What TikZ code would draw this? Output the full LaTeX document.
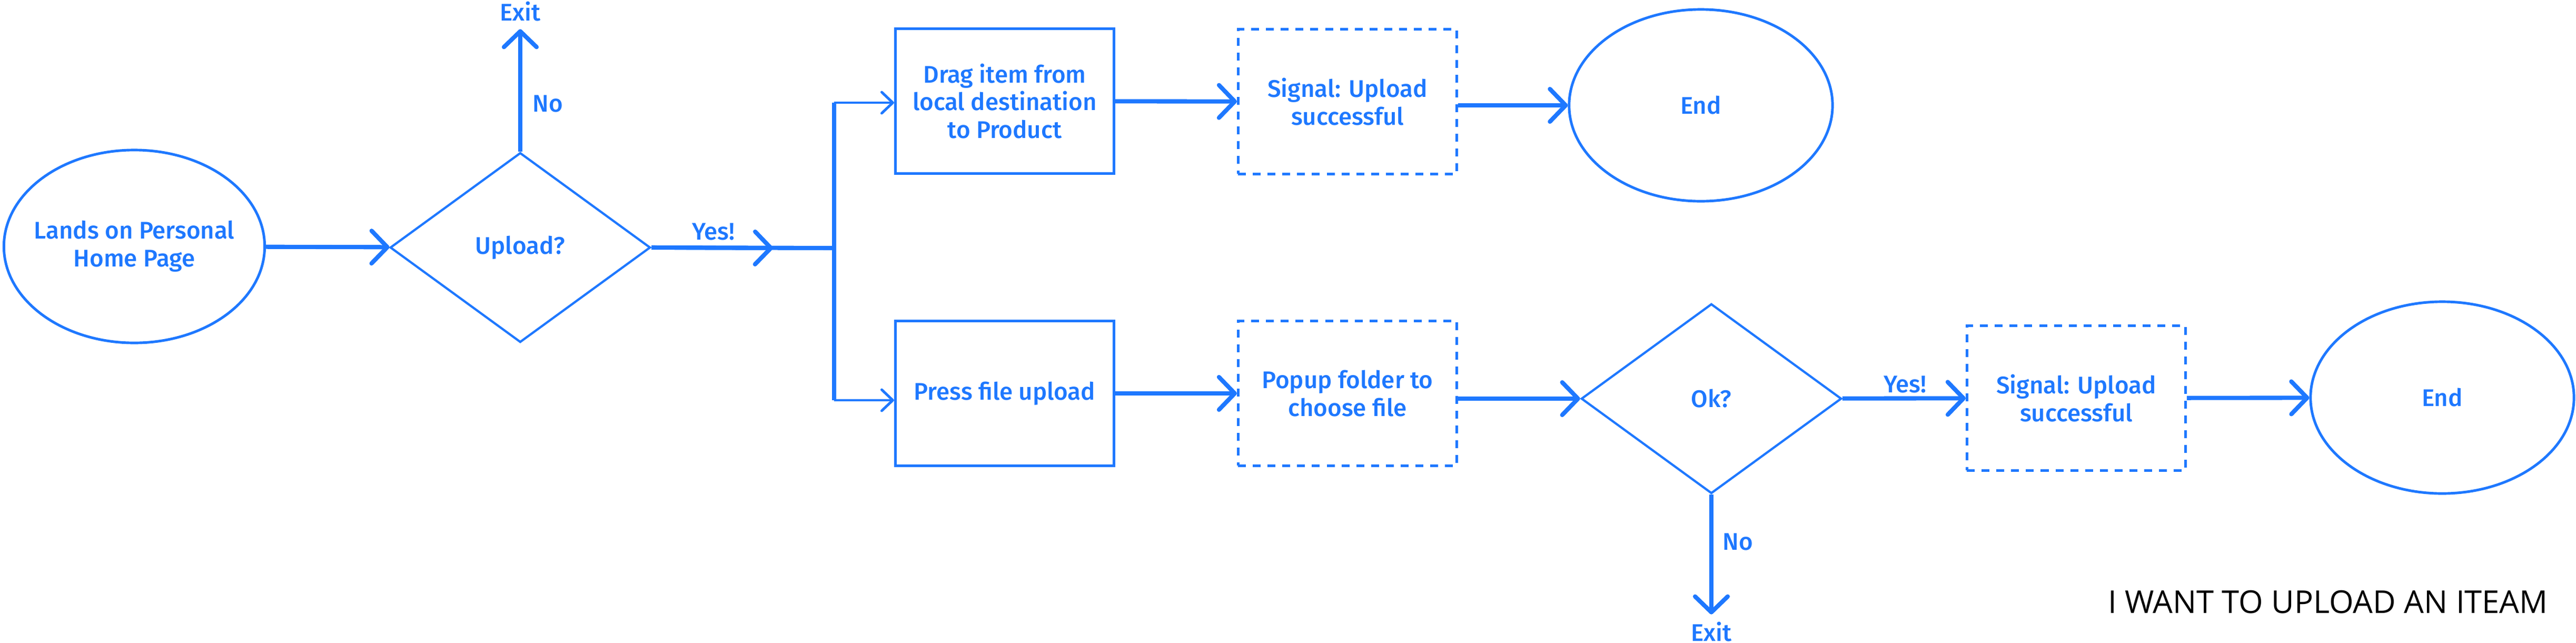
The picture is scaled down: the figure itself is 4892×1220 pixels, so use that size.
\documentclass[tikz,border=0pt]{standalone}
\usepackage{fontspec}
\setmainfont{Fira Sans}[UprightFont=* Medium]
\newfontfamily\titlefont{Open Sans}
\usetikzlibrary{shapes.geometric, arrows.meta}
\definecolor{flowblue}{HTML}{1E78FF}
\tikzset{
	flowtext/.style={text=flowblue, align=center, font=\fontsize{13pt}{15pt}\selectfont},
	base/.style={flowtext, draw=flowblue, line width=1.4pt},
	term/.style={base, ellipse, inner sep=0pt},
	decide/.style={base, diamond, line width=1.2pt, inner sep=0pt, minimum width=4.94cm, minimum height=3.6cm},
	act/.style={base, rectangle, minimum width=4.15cm, minimum height=2.74cm},
	signal/.style={act, dash pattern=on 0.15cm off 0.13cm},
	tag/.style={flowtext, inner sep=4pt},
	wire/.style={draw=flowblue, line width=2.3pt},
	conn/.style={wire, -{Straight Barb[length=0.3cm, width=0.62cm, round]}},
	stub/.style={draw=flowblue, line width=1.4pt, -{Straight Barb[length=0.21cm, width=0.4cm, round]}}
}
\begin{document}
\begin{tikzpicture}[x=0.01cm, y=-0.01cm]
	\useasboundingbox (0,0) rectangle (4892,1220);
	
	%start and first question
	\node[term, minimum width=4.95cm, minimum height=3.66cm] (start) at (255,468) {};
	\node[tag] (startText) at (start) {Lands on Personal\\Home Page};
	\node[decide] (upload) at (988,470) {Upload?};
	\node[tag] (exitA) at (988,22) {Exit};
	\node[tag] (noA) at (1040,197) {No};
	\node[tag] (yesA) at (1355,440) {Yes!};
	
	\coordinate (yesTip) at (1468,471);
	\coordinate (fork) at (1584,471);
	\coordinate (forkTop) at (1584,195);
	\coordinate (forkBot) at (1584,760);
	
	%top row: drag and drop
	\node[act] (drag) at (1908,192) {Drag item from\\local destination\\to Product};
	\node[signal] (sig1) at (2559,193) {Signal: Upload\\successful};
	\node[term, minimum width=5cm, minimum height=3.64cm] (end1) at (3230,200) {End};
	
	%bottom row: file upload
	\node[act] (press) at (1908,747) {Press file upload};
	\node[signal] (popup) at (2559,747) {Popup folder to\\choose file};
	\node[decide] (ok) at (3250,757) {Ok?};
	\node[tag] (yesB) at (3618,730) {Yes!};
	\node[tag] (noB) at (3300,1029) {No};
	\node[tag] (exitB) at (3250,1200) {Exit};
	\node[signal] (sig2) at (3943,756) {Signal: Upload\\successful};
	\node[term, minimum width=5cm, minimum height=3.64cm] (end2) at (4638,755) {End};
	
	\node[font=\titlefont\fontsize{17pt}{20pt}\selectfont] (title) at (4421,1143) {I WANT TO UPLOAD AN ITEAM};
	
	%connectors
	\draw[conn] (start) -- (upload);
	\draw[conn] (upload) -- (exitA);
	\draw[wire] (upload.east) -- (fork);
	\draw[conn] (upload.east) -- (yesTip);
	\draw[wire] (forkTop) -- (forkBot);
	\draw[stub] (forkTop) -- (forkTop -| drag.west);
	\draw[stub] (forkBot) -- (forkBot -| press.west);
	\draw[conn] (drag) -- (sig1);
	\draw[conn] (sig1.east |- end1.west) -- (end1.west);
	\draw[conn] (press) -- (popup);
	\draw[conn] (popup.east |- ok.west) -- (ok.west);
	\draw[conn] (ok) -- (sig2);
	\draw[conn] (ok) -- (exitB);
	\draw[conn] (sig2) -- (end2);
\end{tikzpicture}
\end{document}
